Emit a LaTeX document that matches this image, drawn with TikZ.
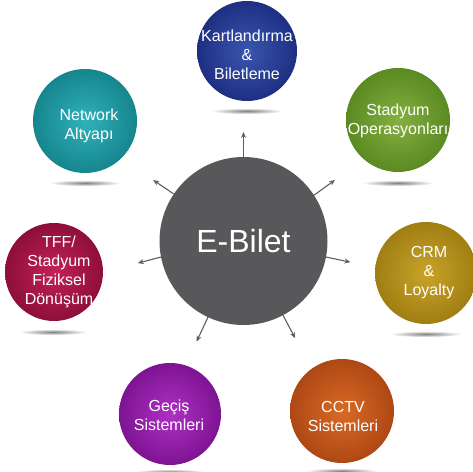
\documentclass[tikz,border=0pt]{standalone}
\usepackage{fontspec}
\setmainfont{Liberation Sans}
\usetikzlibrary{arrows.meta,calc}
\definecolor{hubgray}{HTML}{58585A}
\definecolor{arrgray}{HTML}{5E5E60}
\definecolor{blueIn}{HTML}{3A56B0}\definecolor{blueOut}{HTML}{1E2F82}
\definecolor{greenIn}{HTML}{86B040}\definecolor{greenOut}{HTML}{5A8A22}
\definecolor{goldIn}{HTML}{C9A42A}\definecolor{goldOut}{HTML}{A07E12}
\definecolor{orangeIn}{HTML}{D86A24}\definecolor{orangeOut}{HTML}{AE4814}
\definecolor{purpleIn}{HTML}{AE30C4}\definecolor{purpleOut}{HTML}{7E1492}
\definecolor{crimsonIn}{HTML}{C22258}\definecolor{crimsonOut}{HTML}{8E0E3A}
\definecolor{tealIn}{HTML}{2FB2BA}\definecolor{tealOut}{HTML}{16858E}
\tikzset{
  ball/.style n args={3}{circle, minimum size=#1, inner sep=0pt, outer sep=0pt,
    shade, inner color=#2, outer color=#3},
  lbl/.style={text=white, align=center, inner sep=0pt,
    font=\fontsize{16}{19}\selectfont},
  hub/.style={circle, minimum size=168pt, inner sep=0pt, outer sep=0pt,
    fill=hubgray, text=white, font=\fontsize{32}{36}\selectfont},
  arr/.style={draw=arrgray, line width=1.1pt, -{Stealth[length=6pt,width=5pt]}},
  shadowell/.style={inner color=black!50, outer color=white}
}
\begin{document}
\begin{tikzpicture}[x=1pt,y=1pt]
\useasboundingbox (0,0) rectangle (473,471);
% shadows
\shade[shadowell] (247,360) ellipse (36 and 3);
\shade[shadowell] (398,288) ellipse (36 and 3);
\shade[shadowell] (426,137) ellipse (36 and 3);
\shade[shadowell] (342,0) ellipse (36 and 3);
\shade[shadowell] (170,-1) ellipse (36 and 3);
\shade[shadowell] (53,139) ellipse (34 and 3);
\shade[shadowell] (85,288) ellipse (36 and 3);
% balls
\node[ball={100pt}{blueIn}{blueOut}] (k) at (247,420) {};
\node[lbl] (kt) at (247,416) {Kartlandırma\\\&\\Biletleme};
\node[ball={104pt}{greenIn}{greenOut}] (s) at (398,351) {};
\node[lbl] (st) at (398,350) {Stadyum\\Operasyonları};
\node[ball={102pt}{goldIn}{goldOut}] (crm) at (426,198) {};
\node[lbl] (crmt) at (429,198) {CRM\\\&\\Loyalty};
\node[ball={104pt}{orangeIn}{orangeOut}] (cctv) at (342,60) {};
\node[lbl] (cctvt) at (343,55) {CCTV\\Sistemleri};
\node[ball={102pt}{purpleIn}{purpleOut}] (g) at (170,57) {};
\node[lbl] (gt) at (169,56) {Geçiş\\Sistemleri};
\node[ball={98pt}{crimsonIn}{crimsonOut}] (tff) at (54,199) {};
\node[lbl] (tfft) at (59,199) {TFF/\\Stadyum\\Fiziksel\\Dönüşüm};
\node[ball={104pt}{tealIn}{tealOut}] (n) at (85,350) {};
\node[lbl] (nt) at (89,345) {Network\\Altyapı};
% hub
\node[hub] (c) at (243.5,230) {E-Bilet};
% arrow ends
\coordinate (e1) at ($(c.center)+(90:109)$);
\coordinate (e2) at ($(c.center)+(33.7:110)$);
\coordinate (e3) at ($(c.center)+(-11.2:109)$);
\coordinate (e4) at ($(c.center)+(-62:110)$);
\coordinate (e5) at ($(c.center)+(-115:111)$);
\coordinate (e6) at ($(c.center)+(191.8:108)$);
\coordinate (e7) at ($(c.center)+(146:109)$);
\draw[arr] (c.90) -- (e1);
\draw[arr] (c.33.7) -- (e2);
\draw[arr] (c.-11.2) -- (e3);
\draw[arr] (c.-62) -- (e4);
\draw[arr] (c.-115) -- (e5);
\draw[arr] (c.191.8) -- (e6);
\draw[arr] (c.146) -- (e7);
\end{tikzpicture}
\end{document}
